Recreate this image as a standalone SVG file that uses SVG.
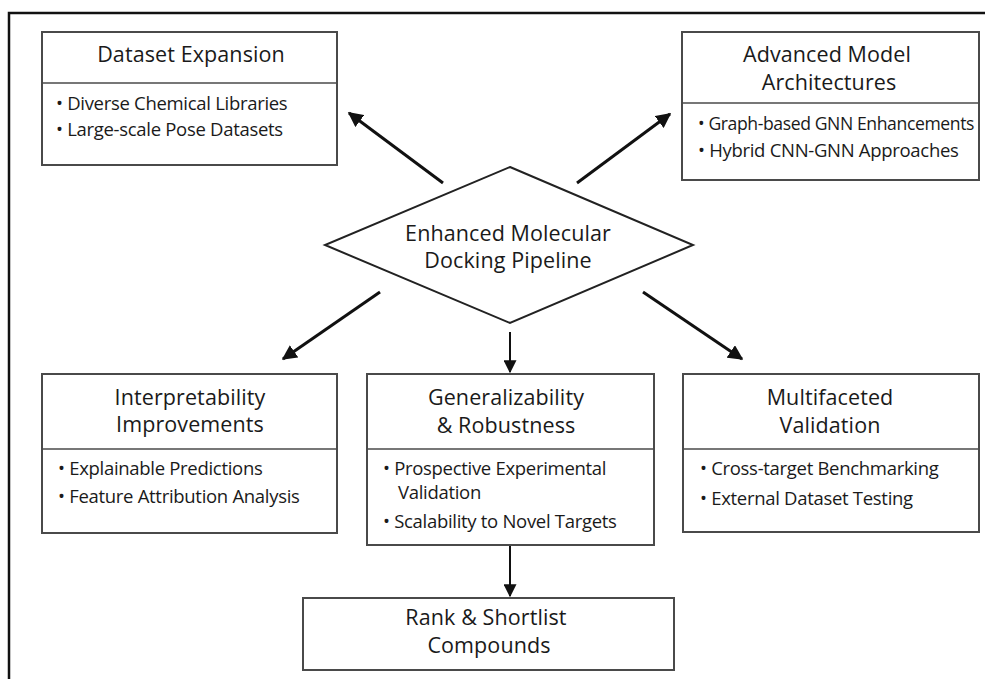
<svg xmlns="http://www.w3.org/2000/svg" width="985" height="679" viewBox="0 0 985 679">
  <defs>
    <marker id="arrow" viewBox="0 0 10 10" refX="9" refY="5" markerWidth="5" markerHeight="5" markerUnits="strokeWidth" orient="auto">
      <path d="M0,0 L10,5 L0,10 z" fill="#111"/>
    </marker>
    <marker id="arrow-s" viewBox="0 0 10 10" refX="9" refY="5" markerWidth="6.5" markerHeight="6.5" markerUnits="strokeWidth" orient="auto">
      <path d="M0,0 L10,5 L0,10 z" fill="#111"/>
    </marker>
    <style>
      .box { fill: #fff; stroke: #4a4a4a; stroke-width: 2; }
      .div { stroke: #4a4a4a; stroke-width: 1.6; }
      .title { font-family: "Open Sans", "Noto Sans", sans-serif; font-size: 21.5px; fill: #1a1a1a; text-anchor: middle; letter-spacing: 0.1px; }
      .item { font-family: "Open Sans", "Noto Sans", sans-serif; font-size: 18.5px; fill: #1a1a1a; letter-spacing: -0.3px; }
      .item.narrow { font-size: 17.6px; letter-spacing: -0.4px; }
      .link { stroke: #111; stroke-width: 3; fill: none; marker-end: url(#arrow); }
      .link-v { stroke: #111; stroke-width: 2; fill: none; marker-end: url(#arrow-s); }
    </style>
  </defs>
  <rect width="985" height="679" fill="#fff"/>
  <!-- outer frame (top and left edges) -->
  <path d="M9,690 L9,13 L990,13" fill="none" stroke="#111" stroke-width="2.5"/>

  <g id="connectors">
    <line class="link" x1="443" y1="183" x2="349" y2="113"/>
    <line class="link" x1="577" y1="183" x2="670" y2="114"/>
    <line class="link" x1="380" y1="292" x2="283" y2="359"/>
    <line class="link" x1="643" y1="292" x2="742" y2="359"/>
    <line class="link-v" x1="510" y1="332" x2="510" y2="372"/>
    <line class="link-v" x1="510" y1="546" x2="510" y2="596"/>
  </g>

  <g id="dataset-expansion">
    <rect class="box" x="42" y="32" width="295" height="133"/>
    <line class="div" x1="42" y1="83" x2="337" y2="83"/>
    <text class="title" x="191" y="62">Dataset Expansion</text>
    <text class="item" x="56" y="110">• Diverse Chemical Libraries</text>
    <text class="item" x="56" y="136">• Large-scale Pose Datasets</text>
  </g>

  <g id="advanced-model">
    <rect class="box" x="682" y="32" width="297" height="148"/>
    <line class="div" x1="682" y1="103" x2="979" y2="103"/>
    <text class="title" x="827" y="62">Advanced Model</text>
    <text class="title" x="829" y="90">Architectures</text>
    <text class="item narrow" x="698" y="130">• Graph-based GNN Enhancements</text>
    <text class="item" x="698" y="157">• Hybrid CNN-GNN Approaches</text>
  </g>

  <g id="pipeline">
    <polygon points="510,167 693,245 510,323 325,245" fill="#fff" stroke="#222" stroke-width="2"/>
    <text class="title" x="508" y="241">Enhanced Molecular</text>
    <text class="title" x="508" y="268">Docking Pipeline</text>
  </g>

  <g id="interpretability">
    <rect class="box" x="42" y="374" width="295" height="159"/>
    <line class="div" x1="42" y1="449" x2="337" y2="449"/>
    <text class="title" x="190" y="405">Interpretability</text>
    <text class="title" x="190" y="432">Improvements</text>
    <text class="item" x="58" y="475">• Explainable Predictions</text>
    <text class="item" x="58" y="503">• Feature Attribution Analysis</text>
  </g>

  <g id="generalizability">
    <rect class="box" x="367" y="374" width="287" height="171"/>
    <line class="div" x1="367" y1="449" x2="654" y2="449"/>
    <text class="title" x="506" y="405">Generalizability</text>
    <text class="title" x="506" y="433">&amp; Robustness</text>
    <text class="item" x="383" y="475">• Prospective Experimental</text>
    <text class="item" x="398" y="499">Validation</text>
    <text class="item" x="383" y="528">• Scalability to Novel Targets</text>
  </g>

  <g id="multifaceted">
    <rect class="box" x="683" y="374" width="296" height="158"/>
    <line class="div" x1="683" y1="449" x2="979" y2="449"/>
    <text class="title" x="830" y="405">Multifaceted</text>
    <text class="title" x="830" y="433">Validation</text>
    <text class="item" x="700" y="475">• Cross-target Benchmarking</text>
    <text class="item" x="700" y="505">• External Dataset Testing</text>
  </g>

  <g id="rank-shortlist">
    <rect class="box" x="303" y="598" width="371" height="72"/>
    <text class="title" x="486" y="625">Rank &amp; Shortlist</text>
    <text class="title" x="489" y="653">Compounds</text>
  </g>
</svg>
